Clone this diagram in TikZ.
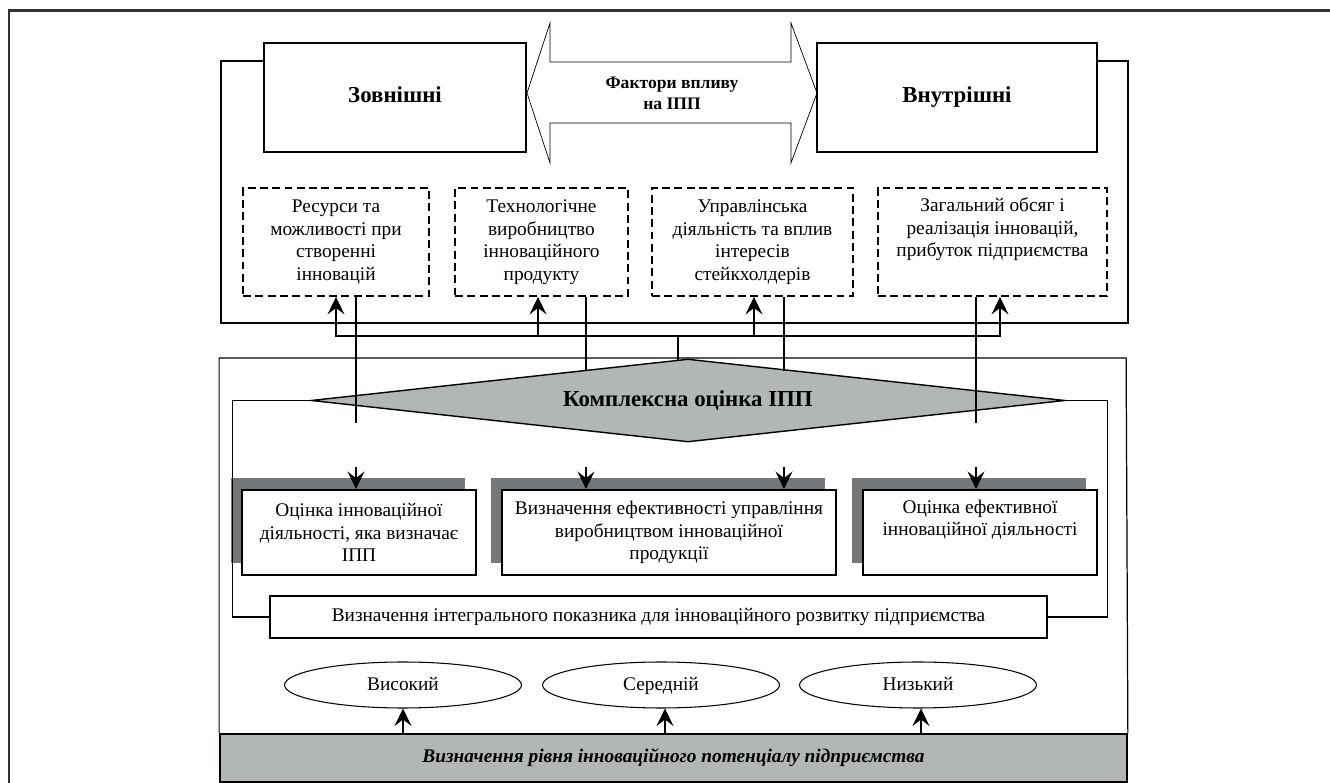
\documentclass[tikz,border=0pt]{standalone}
\usepackage{fontspec}
\setmainfont{Liberation Serif}
\usetikzlibrary{arrows.meta,shapes.geometric,shadows}
\definecolor{fillgray}{RGB}{179,182,182}
\definecolor{shadowgray}{RGB}{117,120,122}
\definecolor{framegray}{RGB}{51,51,51}
\tikzset{%
  >={Stealth[width=3.4mm,length=3.5mm,inset=1.3mm]},
  % Specifications for style of nodes:
  base/.style = {
    rectangle,
    draw=black,
    line width=1.1pt,
    align=center,
    inner sep=2pt,
    font=\fontsize{11}{12.8}\selectfont
  },
  kind/.style = {base, minimum height=2.18cm, text height=1.6ex, text depth=0.3ex,
    font=\fontsize{13}{15}\selectfont\bfseries},
  factor/.style = {base, dash pattern=on 4.5pt off 2.5pt, minimum height=2.16cm},
  method/.style = {base, minimum width=4.68cm, minimum height=1.7cm, fill=white,
    drop shadow={shadow xshift=-0.22cm, shadow yshift=0.24cm, fill=shadowgray, opacity=1}},
  grade/.style = {ellipse, draw=black, line width=0.6pt, minimum width=4.74cm,
    minimum height=0.92cm, inner sep=0pt, text height=1.6ex, text depth=0.3ex,
    font=\fontsize{11}{12.8}\selectfont},
  conn/.style = {line width=0.8pt},
  frame/.style = {line width=0.7pt},
}

\begin{document}
\begin{tikzpicture}[x=0.02cm, y=-0.02cm]
  \useasboundingbox (0,0) rectangle (1330,783);
  \draw[line width=1.7pt, framegray] (9,783) -- (9,11) -- (1330,11);
  % upper part
  \node (ext)  [kind, minimum width=5.24cm] at (395,97.5) {Зовнішні};
  \node (intl) [kind, minimum width=5.6cm] at (957,97.5) {Внутрішні};
  \draw[line width=0.4pt] (527,93) -- (550,23) -- (550,62) -- (791,62) -- (791,23)
    -- (817,93) -- (791,163) -- (791,123) -- (550,123) -- (550,163) -- cycle;
  \node (factors) [align=center, font=\fontsize{10}{12}\selectfont\bfseries] at (672,93)
    {Фактори впливу\\ на ІПП};
  \node (res)  [factor, minimum width=3.72cm] at (336,242)
    {Ресурси та\\ можливості при\\ створенні\\ інновацій};
  \node (tech) [factor, minimum width=3.46cm] at (541.5,242)
    {Технологічне\\ виробництво\\ інноваційного\\ продукту};
  \node (mgmt) [factor, minimum width=4.02cm] at (752.5,242)
    {Управлінська\\ діяльність та вплив\\ інтересів\\ стейкхолдерів};
  \node (total) [factor, minimum width=4.58cm] at (992.5,242)
    {Загальний обсяг і\\ реалізація інновацій,\\ прибуток підприємства\\ \strut};
  \coordinate (upNW) at (221,61);
  \coordinate (upNE) at (1128,61);
  \draw[frame] (ext.west |- upNW) -- (upNW) -- (upNW |- 0,323)
    -- (upNE |- 0,323) -- (upNE) -- (intl.east |- upNE);
  % lower part
  \node (complex) [diamond, draw=black, line width=0.8pt, fill=fillgray, aspect=9,
    minimum width=15.08cm, minimum height=1.66cm, inner sep=0pt,
    font=\fontsize{13}{15}\selectfont\bfseries] at (688,400.5) {Комплексна оцінка ІПП};
  \node (evalA) [method] at (359,532.5)
    {Оцінка інноваційної\\ діяльності, яка визначає\\ ІПП};
  \node (effB) [method, minimum width=6.68cm] at (669,532.5)
    {Визначення ефективності управління\\ виробництвом інноваційної\\ продукції};
  \node (effC) [method] at (980,532.5)
    {Оцінка ефективної\\ інноваційної діяльності\\ \strut};
  \node (integ) [base, minimum width=15.54cm, minimum height=0.84cm] at (658.5,617)
    {Визначення інтегрального показника для інноваційного розвитку підприємства};
  \node (high) [grade] at (403,685) {Високий};
  \node (mid)  [grade] at (661,685) {Середній};
  \node (low)  [grade] at (918,685) {Низький};
  \node (potential) [base, fill=fillgray, minimum width=18.14cm, minimum height=0.96cm,
    font=\fontsize{11}{12.8}\selectfont\bfseries\itshape] at (673.5,758)
    {Визначення рівня інноваційного потенціалу підприємства};
  \draw[frame] (potential.north west) -- ++(0,-375) -- ++(907,0) -- (potential.north east);
  % lines
  \coordinate (bus) at (678,336);
  \draw[conn] (bus) -- ++(0,24);
  \draw[conn, ->] (bus) -| (res.south);
  \draw[conn, ->] (bus) -| ([xshift=-0.07cm]tech.south);
  \draw[conn, ->] (bus) -| ([xshift=0.03cm]mgmt.south);
  \draw[conn, ->] (bus) -| ([xshift=0.15cm]total.south);
  \draw[conn] ([xshift=0.4cm]res.south) -- ++(0,126);
  \draw[conn] ([xshift=0.89cm]tech.south) -- ++(0,74);
  \draw[conn] ([xshift=0.63cm]mgmt.south) -- ++(0,74);
  \draw[conn] ([xshift=-0.33cm]total.south) -- ++(0,126);
  \draw[conn, ->] ([xshift=-0.06cm, yshift=0.44cm]evalA.north) -- ([xshift=-0.06cm]evalA.north);
  \draw[conn, ->] ([xshift=-1.66cm, yshift=0.44cm]effB.north) -- ([xshift=-1.66cm]effB.north);
  \draw[conn, ->] ([xshift=2.3cm, yshift=0.44cm]effB.north) -- ([xshift=2.3cm]effB.north);
  \draw[conn, ->] ([xshift=-0.08cm, yshift=0.44cm]effC.north) -- ([xshift=-0.08cm]effC.north);
  \draw[frame] (complex.west) -- ++(-78,0) |- (integ.west);
  \draw[frame] (complex.east) -- ++(42,0) |- (integ.east);
  \draw[conn, ->] (high.south |- potential.north) -- (high.south);
  \draw[conn, ->] ([xshift=0.08cm]mid.south |- potential.north) -- ([xshift=0.08cm]mid.south);
  \draw[conn, ->] ([xshift=0.06cm]low.south |- potential.north) -- ([xshift=0.06cm]low.south);
\end{tikzpicture}
\end{document}
